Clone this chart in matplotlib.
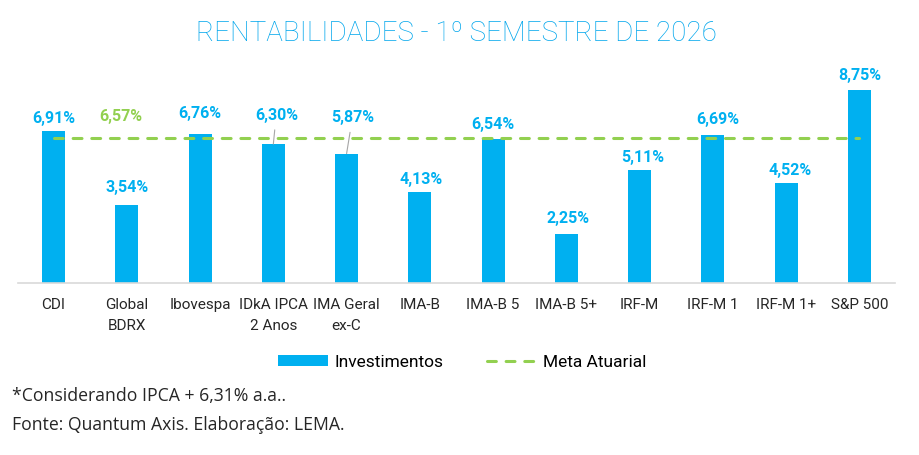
import matplotlib
matplotlib.use('Agg')
import matplotlib.pyplot as plt
from matplotlib.patches import Patch
from matplotlib.lines import Line2D

# data
categories = ['CDI', 'Global\nBDRX', 'Ibovespa', 'IDkA IPCA\n2 Anos', 'IMA Geral\nex-C', 'IMA-B',
              'IMA-B 5', 'IMA-B 5+', 'IRF-M', 'IRF-M 1', 'IRF-M 1+', 'S&P 500']
returns = [6.91, 3.54, 6.76, 6.30, 5.87, 4.13, 6.54, 2.25, 5.11, 6.69, 4.52, 8.75]
meta = 6.57
title = 'RENTABILIDADES - 1º SEMESTRE DE 2026'
notes = ['*Considerando IPCA + 6,31% a.a..', 'Fonte: Quantum Axis. Elaboração: LEMA.']

# label offsets in pixels (dx, dy) above each bar top
labelOffsets = [(0, 13), (0, 19), (0, 21), (3, 30), (6, 37), (1.5, 14),
                (0, 15), (2, 16), (3, 14), (5, 17), (3.5, 14), (0, 15)]
leaders = [3, 4]

blue = '#00B0F0'
green = '#92D050'
fnt = 'Roboto'
dashes = (0, (2.9, 3.2))

fig = plt.figure(figsize=(9.19, 4.56), dpi=100)
ax = fig.add_axes([18/919, (456-284.3)/456, 877/919, 221/456])

x = list(range(len(categories)))
ax.bar(x, returns, width=0.314, color=blue, zorder=2)
ax.plot(x, [meta]*len(x), color=green, lw=2.2, linestyle=dashes,
        dash_capstyle='round', zorder=3)

for i, v in enumerate(returns):
	dx, dy = labelOffsets[i]
	txt = ('%.2f%%' % v).replace('.', ',')
	arrow = None
	if i in leaders:
		arrow = dict(arrowstyle='-', color='#A6A6A6', lw=0.8, shrinkA=4, shrinkB=0)
	ax.annotate(txt, (i, v), xytext=(dx, dy), textcoords='offset pixels',
	            ha='center', va='center', color=blue, fontsize=11.5,
	            fontweight='bold', family=fnt, arrowprops=arrow)

ax.annotate(('%.2f%%' % meta).replace('.', ','), (1, meta), xytext=(-5.5, 23),
            textcoords='offset pixels', ha='center', va='center', color=green,
            fontsize=11.5, fontweight='bold', family=fnt)

ax.set_xlim(-0.485, 11.485)
ax.set_ylim(0, 10)
ax.set_yticks([])
ax.set_xticks(x)
ax.set_xticklabels(categories, fontsize=11, family=fnt, color='#262626')
for t in ax.get_xticklabels():
	t.set_linespacing(1.6)
ax.tick_params(axis='x', length=0, pad=10)
for s in ['top', 'right', 'left']:
	ax.spines[s].set_visible(False)
ax.spines['bottom'].set_color('#D9D9D9')
ax.spines['bottom'].set_linewidth(1.2)

fig.text(0.497, 1 - 41/456, title, ha='center', va='baseline', color='#00A6EC',
         fontsize=20, fontweight='light', family=fnt)

handles = [Patch(facecolor=blue, edgecolor='none'),
           Line2D([0], [0], color=green, lw=2.2, linestyle=dashes, dash_capstyle='round')]
fig.legend(handles, ['Investimentos', 'Meta Atuarial'], loc='center',
           bbox_to_anchor=(462/919, 1 - 363/456), ncol=2, frameon=False,
           prop={'family': fnt, 'size': 12.5}, handlelength=2.9, handleheight=0.65,
           handletextpad=0.35, columnspacing=2.5)

fig.text(12/919, 1 - 396/456, notes[0], ha='left', va='center', fontsize=12.7,
         family='Open Sans', color='#262626')
fig.text(12/919, 1 - 425/456, notes[1], ha='left', va='center', fontsize=12.7,
         family='Open Sans', color='#262626')

plt.savefig('out.png', dpi=100)
